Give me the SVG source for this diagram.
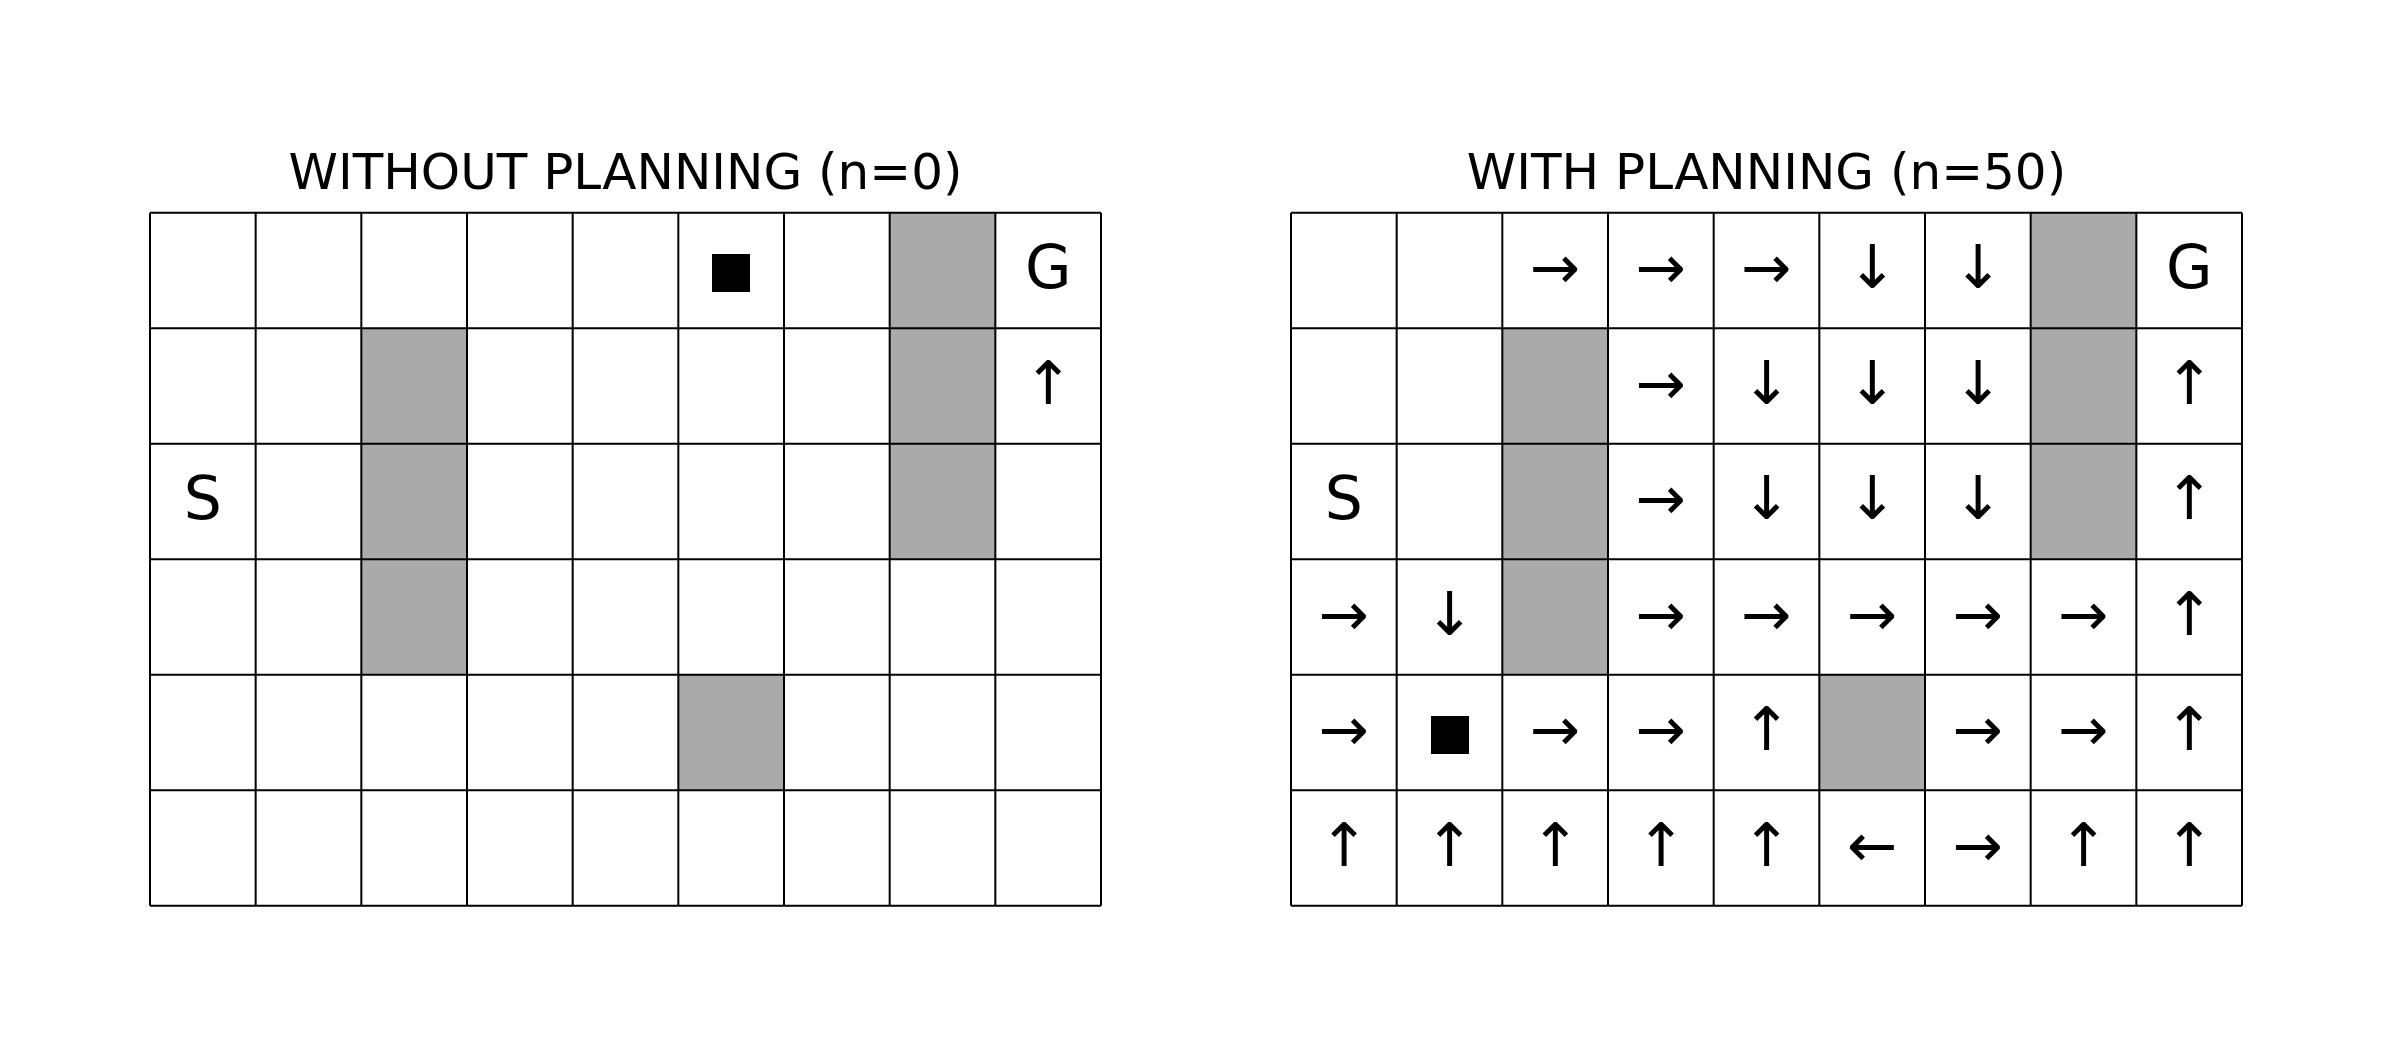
<svg xmlns="http://www.w3.org/2000/svg" width="2392" height="1056" viewBox="0 0 2392 1056">
<style>
.bg{fill:#ffffff}
.wall{fill:#aaaaaa}
.lines{fill:none;stroke:#000000;stroke-width:2}
.title{font-family:"DejaVu Sans",sans-serif;font-size:50px;fill:#000;text-anchor:middle}
.t{font-family:"DejaVu Sans",sans-serif;font-size:60px;fill:#000;text-anchor:middle}
.agent{fill:#000}
</style>
<rect x="0" y="0" width="2392" height="1056" fill="#ffffff"/>

<g id="panel-without-planning">
<text id="title-left" class="title" x="625.5" y="189">WITHOUT PLANNING (n=0)</text>
<g id="grid-left">
<rect class="bg" x="150" y="212.7" width="951" height="693"/>
<rect class="wall" x="889.67" y="212.7" width="105.67" height="346.5"/>
<rect class="wall" x="361.33" y="328.2" width="105.67" height="346.5"/>
<rect class="wall" x="678.33" y="674.7" width="105.67" height="115.5"/>
<path class="lines" d="M150,212.7V905.7M255.67,212.7V905.7M361.33,212.7V905.7M467,212.7V905.7M572.67,212.7V905.7M678.33,212.7V905.7M784,212.7V905.7M889.67,212.7V905.7M995.33,212.7V905.7M1101,212.7V905.7M150,212.7H1101M150,328.2H1101M150,443.7H1101M150,559.2H1101M150,674.7H1101M150,790.2H1101M150,905.7H1101"/>
</g>
<g id="cells-left">
<rect class="agent" x="712" y="254" width="38" height="38"/>
<text class="t" x="1048.17" y="288">G</text>
<text class="t" x="1048.17" y="403.5">↑</text>
<text class="t" x="202.83" y="519">S</text>
</g>
</g>

<g id="panel-with-planning">
<text id="title-right" class="title" x="1766.5" y="189">WITH PLANNING (n=50)</text>
<g id="grid-right">
<rect class="bg" x="1291" y="212.7" width="951" height="693"/>
<rect class="wall" x="2030.67" y="212.7" width="105.67" height="346.5"/>
<rect class="wall" x="1502.33" y="328.2" width="105.67" height="346.5"/>
<rect class="wall" x="1819.33" y="674.7" width="105.67" height="115.5"/>
<path class="lines" d="M1291,212.7V905.7M1396.67,212.7V905.7M1502.33,212.7V905.7M1608,212.7V905.7M1713.67,212.7V905.7M1819.33,212.7V905.7M1925,212.7V905.7M2030.67,212.7V905.7M2136.33,212.7V905.7M2242,212.7V905.7M1291,212.7H2242M1291,328.2H2242M1291,443.7H2242M1291,559.2H2242M1291,674.7H2242M1291,790.2H2242M1291,905.7H2242"/>
</g>
<g id="cells-right">
<text class="t" x="1555.17" y="288">→</text>
<text class="t" x="1660.83" y="288">→</text>
<text class="t" x="1766.5" y="288">→</text>
<text class="t" x="1872.17" y="288">↓</text>
<text class="t" x="1977.83" y="288">↓</text>
<text class="t" x="2189.17" y="288">G</text>

<text class="t" x="1660.83" y="403.5">→</text>
<text class="t" x="1766.5" y="403.5">↓</text>
<text class="t" x="1872.17" y="403.5">↓</text>
<text class="t" x="1977.83" y="403.5">↓</text>
<text class="t" x="2189.17" y="403.5">↑</text>

<text class="t" x="1343.83" y="519">S</text>
<text class="t" x="1660.83" y="519">→</text>
<text class="t" x="1766.5" y="519">↓</text>
<text class="t" x="1872.17" y="519">↓</text>
<text class="t" x="1977.83" y="519">↓</text>
<text class="t" x="2189.17" y="519">↑</text>

<text class="t" x="1343.83" y="634.5">→</text>
<text class="t" x="1449.5" y="634.5">↓</text>
<text class="t" x="1660.83" y="634.5">→</text>
<text class="t" x="1766.5" y="634.5">→</text>
<text class="t" x="1872.17" y="634.5">→</text>
<text class="t" x="1977.83" y="634.5">→</text>
<text class="t" x="2083.5" y="634.5">→</text>
<text class="t" x="2189.17" y="634.5">↑</text>

<text class="t" x="1343.83" y="750">→</text>
<rect class="agent" x="1431" y="716" width="38" height="38"/>
<text class="t" x="1555.17" y="750">→</text>
<text class="t" x="1660.83" y="750">→</text>
<text class="t" x="1766.5" y="750">↑</text>
<text class="t" x="1977.83" y="750">→</text>
<text class="t" x="2083.5" y="750">→</text>
<text class="t" x="2189.17" y="750">↑</text>

<text class="t" x="1343.83" y="865.5">↑</text>
<text class="t" x="1449.5" y="865.5">↑</text>
<text class="t" x="1555.17" y="865.5">↑</text>
<text class="t" x="1660.83" y="865.5">↑</text>
<text class="t" x="1766.5" y="865.5">↑</text>
<text class="t" x="1872.17" y="865.5">←</text>
<text class="t" x="1977.83" y="865.5">→</text>
<text class="t" x="2083.5" y="865.5">↑</text>
<text class="t" x="2189.17" y="865.5">↑</text>
</g>
</g>
</svg>
